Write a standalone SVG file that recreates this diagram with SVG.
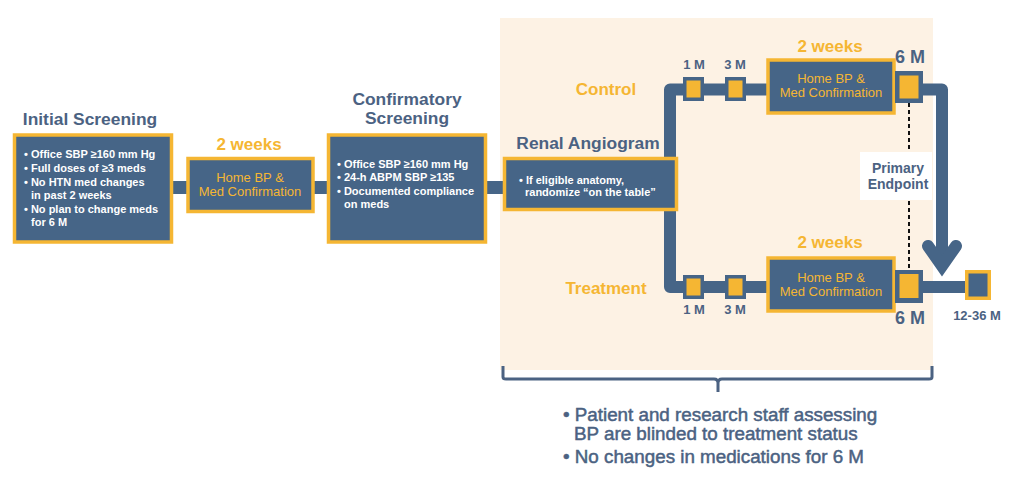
<svg xmlns="http://www.w3.org/2000/svg" width="1024" height="489" viewBox="0 0 1024 489">
<style>
.box{fill:#466587;stroke:#f5b633;stroke-width:3.5}
.sq{fill:#466587}
.sqi{fill:#f5b633}
.title{font-family:"Liberation Sans",Arial,sans-serif;font-weight:bold;font-size:17.4px;fill:#4b6282;text-anchor:middle}
.org{font-family:"Liberation Sans",Arial,sans-serif;font-weight:bold;font-size:17px;fill:#f5b633;text-anchor:middle}
.hb{font-family:"Liberation Sans",Arial,sans-serif;font-size:13px;fill:#f5b633;text-anchor:middle}
.wt{font-family:"Liberation Sans",Arial,sans-serif;font-weight:bold;font-size:11px;fill:#ffffff}
.tm{font-family:"Liberation Sans",Arial,sans-serif;font-weight:bold;font-size:13px;fill:#4b6282;text-anchor:middle}
.tb{font-family:"Liberation Sans",Arial,sans-serif;font-weight:bold;font-size:18px;fill:#4b6282;text-anchor:middle}
.ep{font-family:"Liberation Sans",Arial,sans-serif;font-weight:bold;font-size:14px;fill:#4b6282;text-anchor:middle}
.note{font-family:"Liberation Sans",Arial,sans-serif;font-size:18.8px;fill:#4b6282;stroke:#4b6282;stroke-width:0.5}
.bar{fill:none;stroke:#466587;stroke-width:12}
</style>
<rect width="1024" height="489" fill="#ffffff"/>
<rect id="panel" x="500" y="18" width="433" height="352" fill="#fdf2e4"/>

<g id="connectors">
  <rect x="172" y="181" width="16" height="13" fill="#466587"/>
  <rect x="313" y="181" width="16" height="13" fill="#466587"/>
  <rect x="486" y="181" width="19" height="13" fill="#466587"/>
  <path class="bar" d="M767 89.5 H670 V287 H767" stroke-linejoin="round"/>
  <path class="bar" d="M920 89.5 H942 V262" stroke-linejoin="round"/>
  <polyline points="928,246 942,266 956,246" fill="none" stroke="#466587" stroke-width="12" stroke-linecap="round" stroke-linejoin="miter"/>
  <rect x="920" y="281" width="47" height="12" fill="#466587"/>
  <line x1="909" y1="103" x2="909" y2="270" stroke="#111" stroke-width="2" stroke-dasharray="4 3"/>
  <path d="M503 366 V377 Q503 379 506 379 H714 Q718 379 718 383 V392 M718 383 Q718 379 722 379 H929 Q932 379 932 377 V366" fill="none" stroke="#4b6282" stroke-width="3"/>
</g>

<g id="initial">
  <text class="title" x="90" y="125">Initial Screening</text>
  <rect class="box" x="14.5" y="135" width="157" height="107"/>
  <text class="wt" x="24" y="158">• Office SBP ≥160 mm Hg</text>
  <text class="wt" x="24" y="172">• Full doses of ≥3 meds</text>
  <text class="wt" x="24" y="186">• No HTN med changes</text>
  <text class="wt" x="31" y="199">in past 2 weeks</text>
  <text class="wt" x="24" y="213">• No plan to change meds</text>
  <text class="wt" x="31" y="226">for 6 M</text>
</g>

<g id="home1">
  <text class="org" x="249" y="150">2 weeks</text>
  <rect class="box" x="188" y="158.5" width="125" height="53"/>
  <text class="hb" x="250" y="182">Home BP &amp;</text>
  <text class="hb" x="250" y="196">Med Confirmation</text>
</g>

<g id="confirm">
  <text class="title" x="407" y="105">Confirmatory</text>
  <text class="title" x="407" y="124">Screening</text>
  <rect class="box" x="328.5" y="135" width="157" height="107"/>
  <text class="wt" x="337" y="168">• Office SBP ≥160 mm Hg</text>
  <text class="wt" x="337" y="181">• 24-h ABPM SBP ≥135</text>
  <text class="wt" x="337" y="195">• Documented compliance</text>
  <text class="wt" x="344" y="208">on meds</text>
</g>

<g id="renal">
  <text class="title" x="588" y="149">Renal Angiogram</text>
  <rect class="box" x="504.5" y="158.5" width="172" height="51"/>
  <text class="wt" x="519" y="184">• If eligible anatomy,</text>
  <text class="wt" x="525" y="196">randomize “on the table”</text>
</g>

<g id="arms">
  <text class="org" x="606" y="95">Control</text>
  <text class="org" x="606" y="294">Treatment</text>
</g>

<g id="c1m">
  <text class="tm" x="694" y="69">1 M</text>
  <rect class="sq" x="683" y="77" width="21" height="24"/>
  <rect class="sqi" x="686.5" y="80.5" width="14" height="17"/>
</g>
<g id="c3m">
  <text class="tm" x="735" y="69">3 M</text>
  <rect class="sq" x="725" y="77" width="21" height="24"/>
  <rect class="sqi" x="728.5" y="80.5" width="14" height="17"/>
</g>
<g id="chome">
  <text class="org" x="830" y="52">2 weeks</text>
  <rect class="box" x="768" y="60" width="126" height="53"/>
  <text class="hb" x="831" y="83">Home BP &amp;</text>
  <text class="hb" x="831" y="97">Med Confirmation</text>
</g>
<g id="c6m">
  <text class="tb" x="910" y="63">6 M</text>
  <rect class="sq" x="895" y="71" width="28" height="32"/>
  <rect class="sqi" x="899.5" y="75.5" width="19" height="23"/>
</g>

<g id="endpoint">
  <rect x="860" y="152" width="72" height="48" fill="#ffffff"/>
  <text class="ep" x="898" y="173">Primary</text>
  <text class="ep" x="898" y="189">Endpoint</text>
</g>

<g id="t1m">
  <rect class="sq" x="683" y="275" width="21" height="24"/>
  <rect class="sqi" x="686.5" y="278.5" width="14" height="17"/>
  <text class="tm" x="694" y="314">1 M</text>
</g>
<g id="t3m">
  <rect class="sq" x="725" y="275" width="21" height="24"/>
  <rect class="sqi" x="728.5" y="278.5" width="14" height="17"/>
  <text class="tm" x="735" y="314">3 M</text>
</g>
<g id="thome">
  <text class="org" x="830" y="248">2 weeks</text>
  <rect class="box" x="768" y="258" width="126" height="53"/>
  <text class="hb" x="831" y="282">Home BP &amp;</text>
  <text class="hb" x="831" y="296">Med Confirmation</text>
</g>
<g id="t6m">
  <rect class="sq" x="895" y="270" width="28" height="33"/>
  <rect class="sqi" x="899.5" y="274" width="19" height="24"/>
  <text class="tb" x="910" y="324">6 M</text>
</g>
<g id="t1236">
  <rect x="965" y="270" width="26" height="30" fill="#f5b633"/>
  <rect class="sq" x="968.5" y="273.5" width="19" height="23"/>
  <text class="tm" x="977" y="320">12-36 M</text>
</g>

<g id="notes">
  <text class="note" x="563" y="421">• Patient and research staff assessing</text>
  <text class="note" x="574" y="440">BP are blinded to treatment status</text>
  <text class="note" x="563" y="463">• No changes in medications for 6 M</text>
</g>
</svg>
